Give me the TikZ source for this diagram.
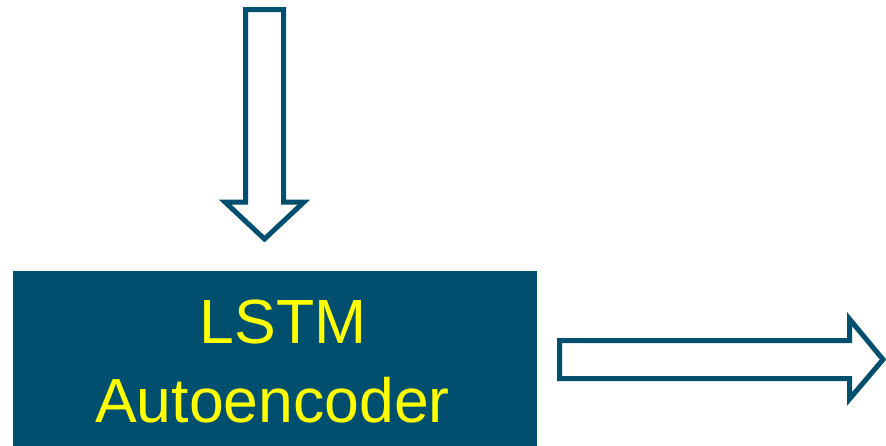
\documentclass[tikz,border=0pt]{standalone}
\usepackage{fontspec}
\setmainfont{Liberation Sans}
\definecolor{teal}{HTML}{004F6E}
\definecolor{lab}{HTML}{FFFF00}
\begin{document}
\begin{tikzpicture}[x=1pt,y=-1pt,
  blockarrow/.style={draw=teal,line width=5pt,fill=white,line join=miter},
  box/.style={fill=teal,draw=none},
  lbl/.style={text=lab,font=\fontsize{62.5}{62.5}\selectfont,anchor=base,inner sep=0pt}]
  \useasboundingbox (0,0) rectangle (886,445);
  % main block
  \fill[box] (13,271) rectangle (537,450);
  \node[lbl] (l1) at (283,343) {LSTM};
  \node[lbl] (l2) at (272.5,422) {Autoencoder};
  % input arrow pointing down
  \draw[blockarrow] (245.5,9.5) -- (283.5,9.5) -- (283.5,202) -- (304,202)
    -- (264.5,239) -- (225,202) -- (245.5,202) -- cycle;
  % output arrow pointing right
  \draw[blockarrow] (559.5,340.5) -- (849.5,340.5) -- (849.5,319) -- (883,359.5)
    -- (849.5,399) -- (849.5,378.5) -- (559.5,378.5) -- cycle;
\end{tikzpicture}
\end{document}
